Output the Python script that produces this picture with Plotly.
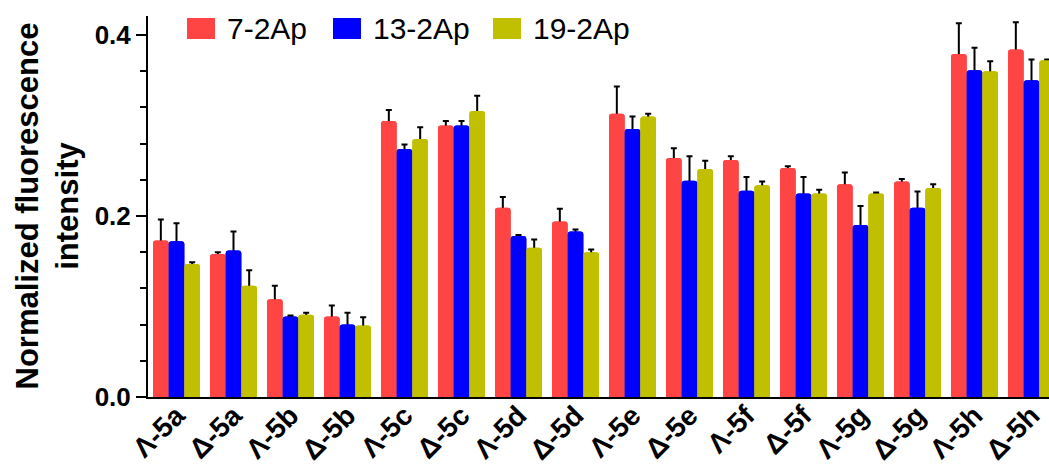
import plotly.graph_objects as go

categories = ["Λ-5a", "Δ-5a", "Λ-5b", "Δ-5b", "Λ-5c", "Δ-5c", "Λ-5d", "Δ-5d",
              "Λ-5e", "Δ-5e", "Λ-5f", "Δ-5f", "Λ-5g", "Δ-5g", "Λ-5h", "Δ-5h"]
series_names = ["7-2Ap", "13-2Ap", "19-2Ap"]
vals_7 = [0.173, 0.158, 0.108, 0.089, 0.305, 0.300, 0.209, 0.194,
          0.313, 0.264, 0.262, 0.253, 0.235, 0.238, 0.379, 0.384]
err_7 = [0.023, 0.002, 0.015, 0.012, 0.012, 0.005, 0.012, 0.014,
         0.030, 0.011, 0.004, 0.002, 0.013, 0.003, 0.034, 0.030]
vals_13 = [0.172, 0.162, 0.089, 0.080, 0.274, 0.300, 0.178, 0.183,
           0.296, 0.239, 0.228, 0.225, 0.190, 0.209, 0.361, 0.350]
err_13 = [0.020, 0.021, 0.001, 0.013, 0.005, 0.005, 0.001, 0.002,
          0.014, 0.027, 0.015, 0.018, 0.021, 0.018, 0.025, 0.023]
vals_19 = [0.147, 0.123, 0.091, 0.079, 0.285, 0.316, 0.165, 0.160,
           0.310, 0.252, 0.234, 0.225, 0.225, 0.231, 0.360, 0.372]
err_19 = [0.002, 0.017, 0.002, 0.009, 0.013, 0.017, 0.009, 0.003,
          0.003, 0.009, 0.004, 0.004, 0.001, 0.004, 0.011, 0.001]
colors = ["#FF4444", "#0000FF", "#C0C000"]
y_tick_vals = [0.0, 0.2, 0.4]

values = [vals_7, vals_13, vals_19]
errors = [err_7, err_13, err_19]

FONT = "Liberation Sans, Arial, sans-serif"
fig = go.Figure()

# first pass: bars with error bars
for i in range(3):
    fig.add_trace(go.Bar(
        x=categories, y=values[i], name=series_names[i], offsetgroup=str(i),
        marker=dict(color=colors[i], line=dict(width=0)),
        error_y=dict(type="data", array=errors[i], visible=True,
                     color="black", thickness=2, width=3),
        showlegend=False))
# second pass: same bars on top, hiding lower half of error bars
for i in range(3):
    fig.add_trace(go.Bar(
        x=categories, y=values[i], name=series_names[i], offsetgroup=str(i),
        marker=dict(color=colors[i], line=dict(width=0)),
        showlegend=False, hoverinfo="skip"))

L, R, T, B = 148, 0, 16, 71
W, H = 1049, 468
pw = W - L - R
ph = H - T - B

def px2x(px):
    return (px - L) / pw

def py2y(py):
    return (H - B - py) / ph

shapes = []
annotations = []
legend_sw = [(187, 215), (333, 361), (493, 521)]
legend_tx = [227, 373, 533]
for i in range(3):
    x0, x1 = legend_sw[i]
    shapes.append(dict(type="rect", xref="paper", yref="paper",
                       x0=px2x(x0), x1=px2x(x1), y0=py2y(39), y1=py2y(18),
                       fillcolor=colors[i], line=dict(width=0), layer="above"))
    annotations.append(dict(xref="paper", yref="paper", x=px2x(legend_tx[i] - 2),
                            y=py2y(28), xanchor="left", yanchor="middle",
                            text=series_names[i], showarrow=False,
                            font=dict(family=FONT, size=30, color="black")))

annotations.append(dict(xref="paper", yref="paper", x=px2x(47), y=0.5,
                        xanchor="center", yanchor="middle", textangle=-90,
                        text="<b>Normalized fluorescence</b><br><b>intensity</b>",
                        showarrow=False,
                        font=dict(family=FONT, size=31, color="black")))

fig.update_layout(
    width=W, height=H,
    margin=dict(l=L, r=R, t=T, b=B, pad=0),
    paper_bgcolor="white", plot_bgcolor="white",
    barmode="group", bargap=0.175, bargroupgap=0, barcornerradius=3,
    showlegend=False,
    shapes=shapes, annotations=annotations,
    font=dict(family=FONT, color="black"),
)
fig.update_xaxes(
    range=[-0.5, -0.5 + pw / 57.0], showline=True, linecolor="black", linewidth=2,
    ticks="", tickangle=-45, showgrid=False, zeroline=False,
    tickfont=dict(family=FONT, size=28, color="black", weight="bold"),
    ticklabelstandoff=-11, automargin=False,
)
fig.update_yaxes(
    range=[0, 0.421], showline=True, linecolor="black", linewidth=2,
    ticks="outside", ticklen=10, tickwidth=2, tickcolor="black",
    tickvals=y_tick_vals, ticktext=[f"{v:.1f}" for v in y_tick_vals],
    minor=dict(ticks="outside", ticklen=6, tickwidth=2, tickcolor="black", dtick=0.04, tick0=0),
    showgrid=False, zeroline=False,
    tickfont=dict(family=FONT, size=26, color="black", weight="bold"),
    automargin=False,
)

fig.write_html("out.html")
